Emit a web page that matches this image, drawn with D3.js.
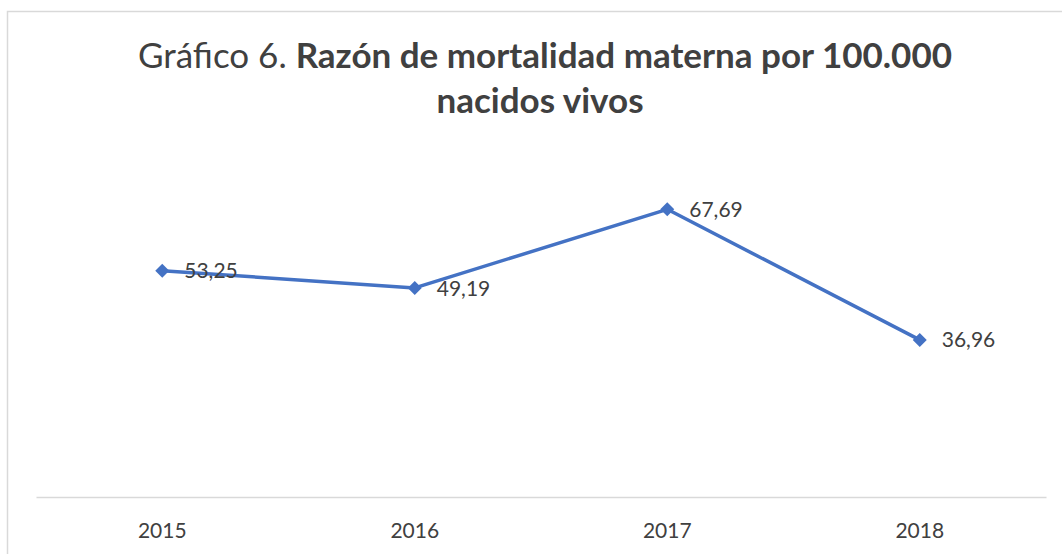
<!DOCTYPE html>
<html>
<head>
<meta charset="utf-8">
<script src="https://cdn.jsdelivr.net/npm/d3@7"></script>
<style>
  body { margin: 0; background: #fff; }
  text { font-family: Lato, "Open Sans", sans-serif; }
</style>
</head>
<body>
<div id="chart"></div>
<script>
// chart data
const years = ["2015", "2016", "2017", "2018"];
const ratios = [53.25, 49.19, 67.69, 36.96];
const ratioLabels = ["53,25", "49,19", "67,69", "36,96"];

const width = 1062, height = 554;

const svg = d3.select("#chart")
  .append("svg")
  .attr("width", width)
  .attr("height", height);

// chart frame (right/bottom edges fall outside the picture)
svg.append("rect")
  .attr("x", 7.5)
  .attr("y", 11.5)
  .attr("width", 1100)
  .attr("height", 600)
  .attr("fill", "#fff")
  .attr("stroke", "#d9d9d9")
  .attr("stroke-width", 1.5);

// title
const title = svg.append("text")
  .attr("text-anchor", "middle")
  .attr("fill", "#404040")
  .style("font-size", "35px");

title.append("tspan")
  .attr("x", 545)
  .attr("y", 68)
  .text("Gráfico 6. ")
  .append("tspan")
  .attr("font-weight", "bold")
  .text("Razón de mortalidad materna por 100.000");

title.append("tspan")
  .attr("x", 540)
  .attr("y", 113)
  .attr("font-weight", "bold")
  .text("nacidos vivos");

let x = d3.scaleBand()
  .domain(years)
  .range([36, 1046]);

let y = d3.scaleLinear()
  .domain([0, 80])
  .range([497, 157]);

// category axis
const xAxis = svg.append("g")
  .attr("transform", "translate(0,497)")
  .call(d3.axisBottom(x).tickSize(0).tickPadding(26));

xAxis.select(".domain")
  .attr("stroke", "#d9d9d9")
  .attr("stroke-width", 1.5);

xAxis.selectAll("text")
  .attr("fill", "#404040")
  .style("font-size", "21px")
  .style("font-family", "Lato, 'Open Sans', sans-serif");

const cx = (d, i) => x(years[i]) + x.bandwidth() / 2;

// series line
const line = d3.line()
  .x((d, i) => cx(d, i))
  .y(d => y(d));

svg.append("path")
  .datum(ratios)
  .attr("d", line)
  .attr("fill", "none")
  .attr("stroke", "#4472c4")
  .attr("stroke-width", 3.5)
  .attr("stroke-linejoin", "round");

// diamond markers
svg.selectAll(".marker")
  .data(ratios)
  .enter()
  .append("path")
  .attr("class", "marker")
  .attr("d", "M0,-7L7,0L0,7L-7,0Z")
  .attr("transform", (d, i) => `translate(${cx(d, i)},${y(d)})`)
  .attr("fill", "#4472c4");

// data labels to the right of each point
svg.selectAll(".dlabel")
  .data(ratios)
  .enter()
  .append("text")
  .attr("class", "dlabel")
  .attr("x", (d, i) => cx(d, i) + 22)
  .attr("y", d => y(d))
  .attr("dy", "0.36em")
  .attr("fill", "#404040")
  .style("font-size", "21px")
  .text((d, i) => ratioLabels[i]);
</script>
</body>
</html>
